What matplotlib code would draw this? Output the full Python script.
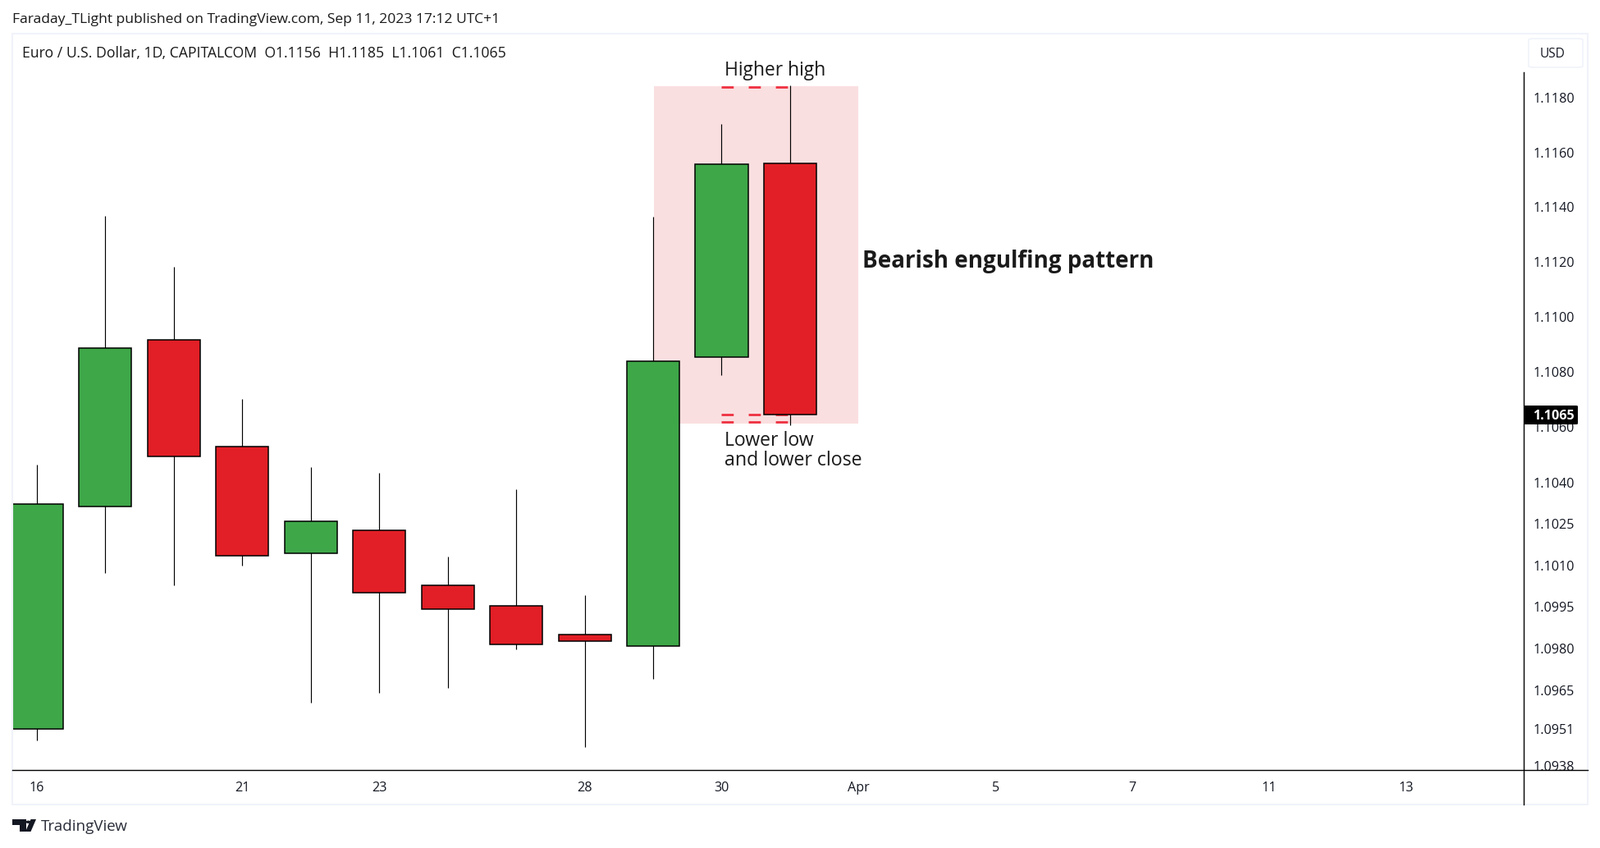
import matplotlib
matplotlib.use("Agg")
import matplotlib.pyplot as plt
from matplotlib.lines import Line2D
from matplotlib.patches import FancyBboxPatch, Rectangle, Polygon, Circle
from matplotlib.ticker import FixedLocator, FixedFormatter, NullLocator
from matplotlib.transforms import blended_transform_factory, ScaledTranslation

W, H = 1950, 1033
FONT = "Open Sans"
plt.rcParams["font.family"] = FONT

# ---- data ----
opens = [1.09515, 1.10317, 1.10921, 1.10535, 1.10147, 1.10232, 1.10031, 1.09959, 1.09856, 1.09813, 1.10857, 1.11565]
highs = [1.10469, 1.11374, 1.11188, 1.10706, 1.10458, 1.10439, 1.10136, 1.10380, 1.09996, 1.11371, 1.11710, 1.11850]
lows = [1.09475, 1.10078, 1.10033, 1.10104, 1.09611, 1.09644, 1.09662, 1.09801, 1.09449, 1.09695, 1.10794, 1.10610]
closes = [1.10325, 1.10891, 1.10498, 1.10140, 1.10262, 1.10007, 1.09945, 1.09819, 1.09831, 1.10843, 1.11561, 1.10650]
price_ticks = [1.1180, 1.1160, 1.1140, 1.1120, 1.1100, 1.1080, 1.1060, 1.1040, 1.1025, 1.1010, 1.0995, 1.0980, 1.0965, 1.0951, 1.0938]
date_pos = [0, 3, 5, 8, 10, 12, 14, 16, 18, 20]
date_labels = ["16", "21", "23", "28", "30", "Apr", "5", "7", "11", "13"]
last_close = 1.1065
box_prices = [1.10618, 1.11847]
box_bars = [9.01, 11.99]
high_marker = 1.11843
low_markers = [1.10650, 1.10622]
marker_bars = [10, 11]

GREEN, RED, PINK, DASH, BORDER, INK = "#3ea748", "#e21f26", "#fadfe0", "#ee3040", "#f0f3fa", "#131722"


def fx(x):
    return x / W


def fy(y):
    return 1 - y / H


fig = plt.figure(figsize=(W / 100, H / 100), dpi=100, facecolor="white")

# frame
fig.add_artist(Rectangle((fx(15), fy(980)), fx(1935 - 15), (980 - 41) / H, transform=fig.transFigure,
                         fill=False, ec=BORDER, lw=1.5))

ax = fig.add_axes([fx(15), fy(938), fx(1857 - 15), (938 - 41) / H], facecolor="none")
ax.set_yscale("log")
ax.set_xlim(-0.358, 21.712)
ax.set_ylim(1.09368, 1.1204)
for s in ax.spines.values():
    s.set_visible(False)

ax.add_patch(Rectangle((box_bars[0], box_prices[0]), box_bars[1] - box_bars[0], box_prices[1] - box_prices[0],
                       fc=PINK, ec="none", zorder=1))
xs = list(range(len(opens)))
ax.vlines(xs, lows, highs, color="black", lw=0.85, zorder=3)
colors = [GREEN if c >= o else RED for o, c in zip(opens, closes)]
bottoms = [min(o, c) for o, c in zip(opens, closes)]
heights = [abs(o - c) for o, c in zip(opens, closes)]
ax.bar(xs, heights, bottom=bottoms, width=0.767, color=colors, edgecolor="black", linewidth=1.1, zorder=4)

dash = dict(color=DASH, lw=2.0, linestyle=(0, (5.3, 6.6)), zorder=2.5, dash_capstyle="butt")
ax.plot(marker_bars, [high_marker] * 2, **dash)
for p in low_markers:
    ax.plot(marker_bars, [p] * 2, **dash)

# axes ticks
ax.yaxis.tick_right()
ax.yaxis.set_major_locator(FixedLocator(price_ticks))
ax.yaxis.set_major_formatter(FixedFormatter([f"{p:.4f}" for p in price_ticks]))
ax.yaxis.set_minor_locator(NullLocator())
ax.tick_params(axis="y", which="major", length=0, pad=8, labelsize=11.6, labelcolor=INK)
ax.set_xticks(date_pos)
ax.set_xticklabels(date_labels)
ax.tick_params(axis="x", length=0, pad=10, labelsize=11.6, labelcolor=INK)
ax.xaxis.set_minor_locator(NullLocator())
up = ScaledTranslation(0, 1.4 / 100, fig.dpi_scale_trans)
for tick in ax.yaxis.get_major_ticks():
    tick.label2.set_transform(tick.label2.get_transform() + up)

# axis lines
fig.add_artist(Line2D([fx(1857), fx(1857)], [fy(88), fy(980)], color="black", lw=1.0))
fig.add_artist(Line2D([fx(15), fx(1935)], [fy(938), fy(938)], color="black", lw=1.0))

# last price badge
fig.add_artist(FancyBboxPatch((fx(1857), fy(517)), fx(66), 23 / H, transform=fig.transFigure,
                              boxstyle="round,pad=0,rounding_size=0.0015", fc="black", ec="none",
                              mutation_aspect=H / W, zorder=5))
tr = blended_transform_factory(fig.transFigure, ax.transData) + ScaledTranslation(0, -2.2 / 100, fig.dpi_scale_trans)
fig.text(fx(1868), last_close, f"{last_close:.4f}", transform=tr, color="white", fontsize=11.6, fontweight="bold",
         ha="left", va="center", zorder=6)


def label(x, y, s, size, **kw):
    t = fig.text(fx(x), fy(y), s, fontsize=size, color=kw.pop("color", "#1a1a1a"), va="center", **kw)
    t.set_zorder(7)


label(15, 23.5, "Faraday_TLight published on TradingView.com, Sep 11, 2023 17:12 UTC+1", 12.6)
label(27, 65, "Euro / U.S. Dollar, 1D, CAPITALCOM  O1.1156  H1.1185  L1.1061  C1.1065", 12.7)
label(883, 85.5, "Higher high", 16.4)
label(883, 537, "Lower low", 16.6)
label(883, 561, "and lower close", 16.7)
label(1051, 318.5, "Bearish engulfing pattern", 20, fontweight="bold")

# currency button
fig.add_artist(FancyBboxPatch((fx(1863), fy(82)), fx(66), 35 / H, transform=fig.transFigure,
                              boxstyle="round,pad=0,rounding_size=0.003", fc="white", ec=BORDER, lw=1.2,
                              mutation_aspect=H / W))
fig.text(fx(1892), fy(65.5), "USD", fontsize=11.2, color=INK, ha="center", va="center")

# logo
fig.add_artist(Polygon([(fx(15), fy(998)), (fx(31.5), fy(998)), (fx(31.5), fy(1013)), (fx(24), fy(1013)),
                        (fx(24), fy(1004.5)), (fx(15), fy(1004.5))], transform=fig.transFigure, fc=INK, ec="none"))
fig.add_artist(Polygon([(fx(37.5), fy(998)), (fx(44), fy(998)), (fx(37.5), fy(1013)), (fx(31), fy(1013))],
                       transform=fig.transFigure, fc=INK, ec="none"))
fig.add_artist(Circle((fx(34.5), fy(1001.3)), 3.2 / W, transform=fig.transFigure, fc=INK, ec="none"))
fig.text(fx(50), fy(1007.5), "TradingView", fontsize=13.5, color="#2a2e39", va="center")

fig.savefig("out.png", dpi=100)
